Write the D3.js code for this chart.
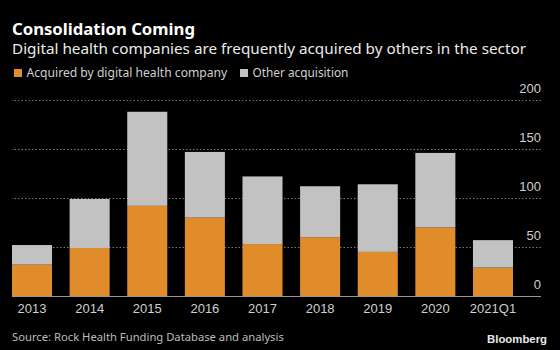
<!DOCTYPE html>
<html>
<head>
<meta charset="utf-8">
<script src="https://cdn.jsdelivr.net/npm/d3@7"></script>
<style>
  html, body { margin: 0; padding: 0; background: #000; }
  svg { display: block; font-family: "Noto Sans", sans-serif; }
  .tick line { stroke: #7a7a7a; stroke-dasharray: 1.5,2; }
  .tick text { fill: #cfcfcf; font-size: 13px; }
</style>
</head>
<body>
<svg id="chart" width="560" height="350"></svg>
<script>
// values
const periods = ["2013", "2014", "2015", "2016", "2017", "2018", "2019", "2020", "2021Q1"];
const acquiredByDigital = [32, 49, 92, 80, 53, 60, 45, 70, 29];
const otherAcquisition = [20, 50, 96, 67, 69, 52, 69, 76, 28];
const yTicks = [0, 50, 100, 150, 200];
const seriesNames = ["Acquired by digital health company", "Other acquisition"];
const seriesColors = ["#e08c2a", "#c2c2c2"];

const svg = d3.select("#chart");
const W = 560, H = 350;
svg.append("rect").attr("width", W).attr("height", H).attr("fill", "#000");

// squeeze a text node's font size so it spans the width seen in the reference
function fitWidth(sel, target) {
  const node = sel.node();
  const w = node.getComputedTextLength();
  const fs = parseFloat(sel.attr("font-size"));
  sel.attr("font-size", (fs * target / w).toFixed(2));
}

/* ---------- Titles ---------- */
const title = svg.append("text").attr("x", 12).attr("y", 34.5)
  .attr("font-size", 17).attr("font-weight", "bold").attr("fill", "#fff")
  .text("Consolidation Coming");
fitWidth(title, 183);

const sub = svg.append("text").attr("x", 12).attr("y", 54)
  .attr("font-size", 16).attr("fill", "#ececec")
  .text("Digital health companies are frequently acquired by others in the sector");
fitWidth(sub, 514);

/* ---------- Legend ---------- */
const legendX = [14, 240];
const legendW = [201, 96];
seriesNames.forEach((name, i) => {
  svg.append("rect").attr("x", legendX[i]).attr("y", 69)
    .attr("width", 8).attr("height", 8).attr("fill", seriesColors[i]);
  const t = svg.append("text").attr("x", legendX[i] + 12.5).attr("y", 77)
    .attr("font-size", 13).attr("fill", "#d0d0d0").text(name);
  fitWidth(t, legendW[i]);
});

/* ---------- Scales ---------- */
const plotLeft = 12, plotRight = 541;
const x = d3.scaleBand().domain(periods).range([12, 513]).paddingInner(0.305).paddingOuter(0);
const y = d3.scaleLinear().domain([0, 200]).range([296, 100]);

// y axis: dotted gridlines with labels sitting on top, right aligned
const yAxis = svg.append("g")
  .attr("transform", `translate(${plotRight},0)`)
  .call(d3.axisLeft(y).tickValues(yTicks).tickSize(plotRight - plotLeft).tickPadding(0));
yAxis.select(".domain").remove();
yAxis.selectAll(".tick line").filter(d => d === 0).remove();
yAxis.selectAll(".tick text")
  .attr("x", 0).attr("dy", "-0.55em").attr("text-anchor", "end");

/* ---------- Bars ---------- */
const rows = periods.map((p, i) => ({ period: p, a: acquiredByDigital[i], o: otherAcquisition[i] }));
const stacked = d3.stack().keys(["a", "o"])(rows);

svg.append("g").selectAll("g").data(stacked).join("g")
  .attr("fill", (d, i) => seriesColors[i])
  .selectAll("rect").data(d => d).join("rect")
  .attr("x", d => x(d.data.period))
  .attr("width", x.bandwidth())
  .attr("y", d => y(d[1]))
  .attr("height", d => y(d[0]) - y(d[1]));

// baseline
svg.append("line").attr("x1", plotLeft).attr("x2", plotRight)
  .attr("y1", y(0) + 0.5).attr("y2", y(0) + 0.5)
  .attr("stroke", "#9a9a9a").attr("stroke-width", 1);

/* ---------- X axis ---------- */
const xAxis = svg.append("g")
  .attr("transform", `translate(0,${y(0)})`)
  .call(d3.axisBottom(x).tickSize(0).tickPadding(8));
xAxis.select(".domain").remove();

/* ---------- Footer ---------- */
const src = svg.append("text").attr("x", 12).attr("y", 340.5)
  .attr("font-size", 13).attr("fill", "#bdbdbd")
  .text("Source: Rock Health Funding Database and analysis");
fitWidth(src, 272);

const brand = svg.append("text").attr("x", 547).attr("y", 342.5)
  .attr("text-anchor", "end").attr("font-size", 13).attr("font-weight", "bold")
  .attr("fill", "#e8e8e8").attr("font-family", "'Liberation Sans', Arial, sans-serif")
  .text("Bloomberg");
fitWidth(brand, 60);
</script>
</body>
</html>
